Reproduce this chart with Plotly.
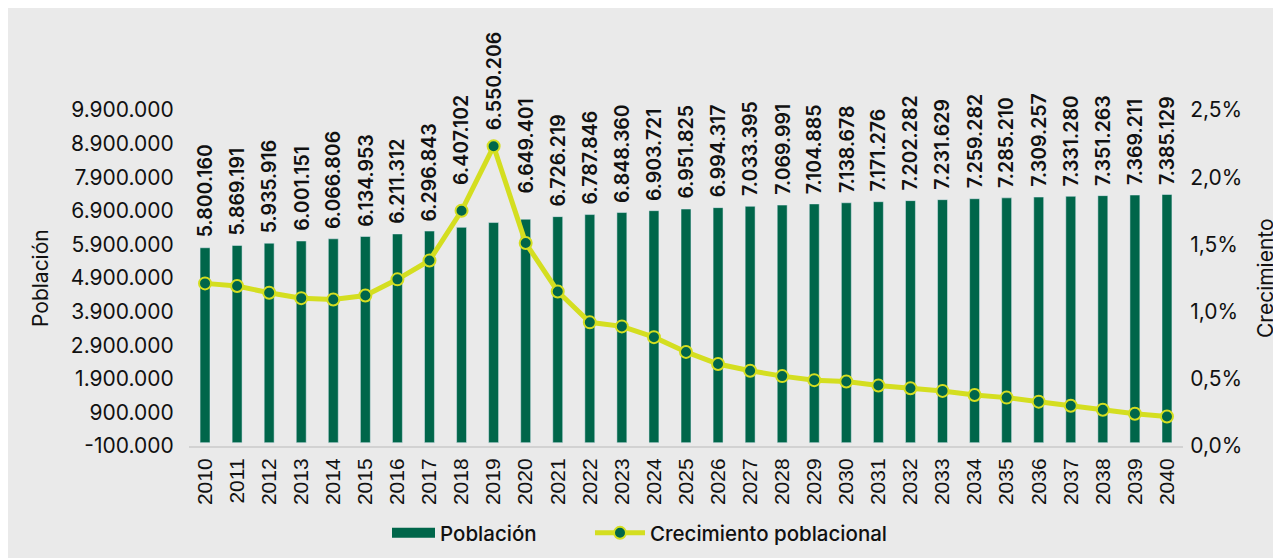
import plotly.graph_objects as go

years = [str(y) for y in range(2010, 2041)]
poblacion = [5800160, 5869191, 5935916, 6001151, 6066806, 6134953, 6211312, 6296843,
             6407102, 6550206, 6649401, 6726219, 6787846, 6848360, 6903721, 6951825,
             6994317, 7033395, 7069991, 7104885, 7138678, 7171276, 7202282, 7231629,
             7259282, 7285210, 7309257, 7331280, 7351263, 7369211, 7385129]
crecimiento = [0.0121, 0.0119, 0.0114, 0.0110, 0.0109, 0.0112, 0.0124, 0.0138,
               0.0175, 0.0223, 0.0151, 0.0115, 0.0092, 0.0089, 0.0081, 0.0070,
               0.0061, 0.0056, 0.0052, 0.0049, 0.0048, 0.0045, 0.0043, 0.0041,
               0.0038, 0.0036, 0.0033, 0.0030, 0.0027, 0.0024, 0.0022]
left_ticks = [-100000 + 1000000 * i for i in range(11)]
right_ticks = [0, 0.005, 0.010, 0.015, 0.020, 0.025]

# extra lift (px) for labels moved clear of the growth line
label_lift = {"2018": 32, "2019": 82, "2020": 16}


def fmt_int(v):
    return f"{v:,}".replace(",", ".")


left_ticktext = [fmt_int(v) for v in left_ticks]

GREEN = "#00664a"
YELLOW = "#d4de20"
BG = "#eaeaea"
FONT = "Inter, Liberation Sans, sans-serif"
ARIAL = "Liberation Sans, Arial, sans-serif"

fig = go.Figure()
fig.add_trace(go.Bar(
    x=years, y=poblacion, name="Población", marker_color=GREEN, width=0.31,
    showlegend=False,
))
# legend entry drawn as a wide green swatch
fig.add_trace(go.Scatter(
    x=[None], y=[None], name="Población", mode="lines",
    line=dict(color=GREEN, width=11), showlegend=True, legend="legend",
))
fig.add_trace(go.Scatter(
    x=years, y=crecimiento, name="Crecimiento poblacional", yaxis="y2",
    mode="lines+markers", line=dict(color=YELLOW, width=5),
    marker=dict(size=12, color=GREEN, line=dict(color=YELLOW, width=2)),
    cliponaxis=False, legend="legend2",
))

annotations = [
    dict(x=i, y=v, xref="x", yref="y", text=fmt_int(v),
         textangle=-90, showarrow=False, yanchor="bottom", xanchor="center",
         yshift=8 + label_lift.get(yr, 0),
         font=dict(family=FONT, size=19.5, color="#111", weight=600))
    for i, (yr, v) in enumerate(zip(years, poblacion))
]

L, R, T, B = 181, 106, 102, 120
W, H = 1281, 558
pw, ph = W - L - R, H - T - B

annotations += [
    dict(text="Población", xref="paper", yref="paper", x=(32 - L) / pw, y=0.5,
         xanchor="center", yanchor="middle",
         textangle=-90, showarrow=False, font=dict(size=21)),
    dict(text="Crecimiento", xref="paper", yref="paper", x=(1257 - L) / pw, y=0.5,
         xanchor="center", yanchor="middle",
         textangle=-90, showarrow=False, font=dict(size=21)),
]

leg_y = -(525 - 438) / ph
fig.update_layout(
    width=W, height=H,
    margin=dict(l=L, r=R, t=T, b=B, autoexpand=False),
    paper_bgcolor=BG, plot_bgcolor=BG,
    separators=",.",
    font=dict(family=FONT, size=21, color="#111"),
    showlegend=True,
    legend=dict(orientation="h", x=(379 - L) / pw, xanchor="left",
                y=leg_y, yanchor="middle", itemwidth=43,
                font=dict(size=20.5, family=FONT, weight=500), bgcolor="rgba(0,0,0,0)"),
    legend2=dict(orientation="h", x=(582 - L) / pw, xanchor="left",
                 y=leg_y, yanchor="middle", itemwidth=50,
                 font=dict(size=20.5, family=FONT, weight=500), bgcolor="rgba(0,0,0,0)"),
    xaxis=dict(type="category", tickangle=-90, showgrid=False,
               showline=True, linecolor="#d2d2d2", linewidth=2,
               ticks="outside", ticklen=2, tickcolor="rgba(0,0,0,0)",
               tickfont=dict(family=ARIAL, size=21, color="#111"),
               range=[-0.5, 30.5]),
    yaxis=dict(range=[-100000, 9900000], tickvals=left_ticks, ticktext=left_ticktext,
               showgrid=False, zeroline=False, ticks="outside", ticklen=10,
               tickcolor="rgba(0,0,0,0)", tickfont=dict(size=21)),
    yaxis2=dict(range=[0, 0.025], tickvals=right_ticks, tickformat=".1%",
                overlaying="y", side="right", showgrid=False, zeroline=False,
                ticks="outside", ticklen=2, tickcolor="rgba(0,0,0,0)",
                tickfont=dict(size=21)),
    annotations=annotations,
)

fig.write_html("out.html")
